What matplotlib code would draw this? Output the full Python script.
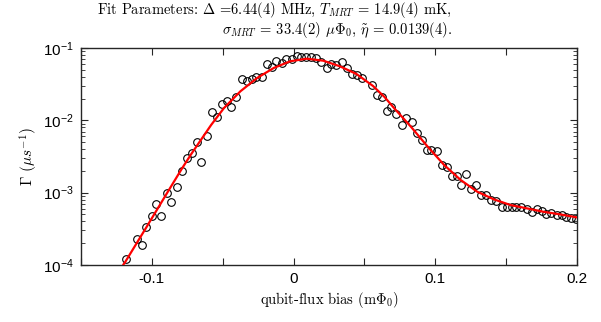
import matplotlib
matplotlib.use("Agg")
import matplotlib.pyplot as plt
from matplotlib.ticker import FixedLocator, FixedFormatter, LogLocator, NullFormatter

plt.rcParams['mathtext.fontset'] = 'cm'

# measured decay rates (open circles)
flux_bias = [-0.1181, -0.1106, -0.1073, -0.1038, -0.1001, -0.0971, -0.0933, -0.0894,
             -0.0863, -0.0825, -0.0788, -0.0755, -0.0720, -0.0683, -0.0650, -0.0613,
             -0.0576, -0.0541, -0.0506, -0.0471, -0.0438, -0.0403, -0.0366, -0.0331,
             -0.0296, -0.0262, -0.0226, -0.0189, -0.0154, -0.0121, -0.0084, -0.0050,
             -0.0014, 0.0021, 0.0056, 0.0091, 0.0126, 0.0161, 0.0197, 0.0235,
             0.0265, 0.0302, 0.0340, 0.0374, 0.0409, 0.0446, 0.0480, 0.0551,
             0.0586, 0.0621, 0.0659, 0.0691, 0.0726, 0.0764, 0.0797, 0.0833,
             0.0870, 0.0903, 0.0940, 0.0973, 0.1010, 0.1045, 0.1080, 0.1115,
             0.1150, 0.1185, 0.1220, 0.1255, 0.1290, 0.1326, 0.1361, 0.1396,
             0.1431, 0.1469, 0.1505, 0.1539, 0.1573, 0.1608, 0.1644, 0.1680,
             0.1715, 0.1750, 0.1785, 0.1820, 0.1856, 0.1891, 0.1926, 0.1960, 0.1996]
gamma = [1.195e-4, 2.26e-4, 1.90e-4, 3.38e-4, 4.75e-4, 6.96e-4, 4.75e-4, 9.97e-4,
         7.34e-4, 1.215e-3, 2.01e-3, 2.98e-3, 3.50e-3, 5.01e-3, 2.69e-3, 6.03e-3,
         1.315e-2, 1.122e-2, 1.67e-2, 1.85e-2, 1.55e-2, 2.12e-2, 3.70e-2, 3.50e-2,
         3.75e-2, 3.93e-2, 3.97e-2, 6.10e-2, 5.51e-2, 6.67e-2, 6.16e-2, 6.98e-2,
         7.09e-2, 7.63e-2, 7.46e-2, 7.39e-2, 7.39e-2, 7.34e-2, 6.46e-2, 5.21e-2,
         6.01e-2, 5.86e-2, 6.50e-2, 5.34e-2, 4.37e-2, 4.26e-2, 3.87e-2, 3.06e-2,
         2.24e-2, 2.11e-2, 1.353e-2, 1.542e-2, 1.23e-2, 8.75e-3, 1.093e-2, 9.41e-3,
         6.74e-3, 5.29e-3, 3.91e-3, 3.86e-3, 3.76e-3, 2.45e-3, 2.24e-3, 1.70e-3,
         1.71e-3, 1.274e-3, 1.796e-3, 1.129e-3, 1.282e-3, 9.32e-4, 9.32e-4, 7.82e-4,
         7.58e-4, 6.36e-4, 6.41e-4, 6.28e-4, 6.24e-4, 6.33e-4, 6.03e-4, 5.48e-4,
         5.87e-4, 5.56e-4, 5.01e-4, 5.19e-4, 4.90e-4, 4.90e-4, 4.55e-4, 4.45e-4, 4.28e-4]

# fitted curve (red)
fit_x = [-0.1200, -0.1190, -0.1038, -0.0893, -0.0788, -0.0722, -0.0582, -0.0491,
         -0.0375, -0.0257, -0.0140, -0.0024, 0.0093, 0.0210, 0.0327, 0.0444,
         0.0561, 0.0642, 0.0712, 0.0830, 0.0947, 0.1063, 0.1180, 0.1297,
         0.1414, 0.1531, 0.1648, 0.1764, 0.1881, 0.2000]
fit_y = [1.02e-4, 1.086e-4, 3.34e-4, 9.87e-4, 2.15e-3, 3.42e-3, 8.61e-3, 1.479e-2,
         2.52e-2, 3.85e-2, 5.29e-2, 6.55e-2, 7.11e-2, 6.67e-2, 5.58e-2, 4.37e-2,
         2.98e-2, 2.10e-2, 1.456e-2, 8.08e-3, 4.31e-3, 2.41e-3, 1.494e-3, 1.029e-3,
         8.08e-4, 6.74e-4, 6.06e-4, 5.44e-4, 5.01e-4, 4.55e-4]

x_ticks = [-0.15, -0.1, -0.05, 0, 0.05, 0.1, 0.15, 0.2]
x_tick_labels = ['', '-0.1', '', '0', '', '0.1', '', '0.2']
y_ticks = [1e-4, 1e-3, 1e-2, 1e-1]
y_tick_labels = [r'$\mathregular{10^{-4}}$', r'$\mathregular{10^{-3}}$',
                 r'$\mathregular{10^{-2}}$', r'$\mathregular{10^{-1}}$']

fig = plt.figure(figsize=(6.01, 3.22), dpi=100)
ax = fig.add_axes([0.1348, 0.177, 0.8252, 0.674])

ax.plot(flux_bias, gamma, 'o', mfc='none', mec='black', mew=0.8, ms=5.5, zorder=2)
ax.plot(fit_x, fit_y, '-', color='red', lw=1.6, zorder=3)

ax.set_yscale('log')
ax.set_xlim(-0.15, 0.2)
ax.set_ylim(1e-4, 1e-1)

ax.xaxis.set_major_locator(FixedLocator(x_ticks))
ax.xaxis.set_major_formatter(FixedFormatter(x_tick_labels))
ax.yaxis.set_major_locator(FixedLocator(y_ticks))
ax.yaxis.set_major_formatter(FixedFormatter(y_tick_labels))
ax.yaxis.set_minor_locator(LogLocator(base=10, subs=range(2, 10)))
ax.yaxis.set_minor_formatter(NullFormatter())

ax.tick_params(which='both', direction='in', top=True, right=True, colors='#262626')
ax.tick_params(which='major', length=5, width=0.8, labelsize=11, pad=5)
ax.tick_params(which='minor', length=3, width=0.6)
for lab in ax.get_xticklabels() + ax.get_yticklabels():
    lab.set_fontfamily('Liberation Sans')
    lab.set_color('black')
for sp in ax.spines.values():
    sp.set_linewidth(1.0)
    sp.set_color('#262626')

ax.set_xlabel(r'qubit-flux bias (m$\Phi_0$)', fontfamily='cmr10', fontsize=10.5, labelpad=3)
ax.set_ylabel(r'$\Gamma$ $(\mu s^{-1})$', fontfamily='cmr10', fontsize=11, labelpad=2)

# two-line title, both lines right-aligned
fig.text(0.752, 0.955, r'Fit Parameters: $\Delta$ =6.44(4) MHz, $T_{MRT}$ = 14.9(4) mK,',
         ha='right', va='baseline', fontfamily='cmr10', fontsize=10.5)
fig.text(0.752, 0.894, r'$\sigma_{MRT}$ = 33.4(2) $\mu\Phi_0$, $\tilde{\eta}$ = 0.0139(4).',
         ha='right', va='baseline', fontfamily='cmr10', fontsize=10.5)

fig.savefig('out.png', dpi=100)
